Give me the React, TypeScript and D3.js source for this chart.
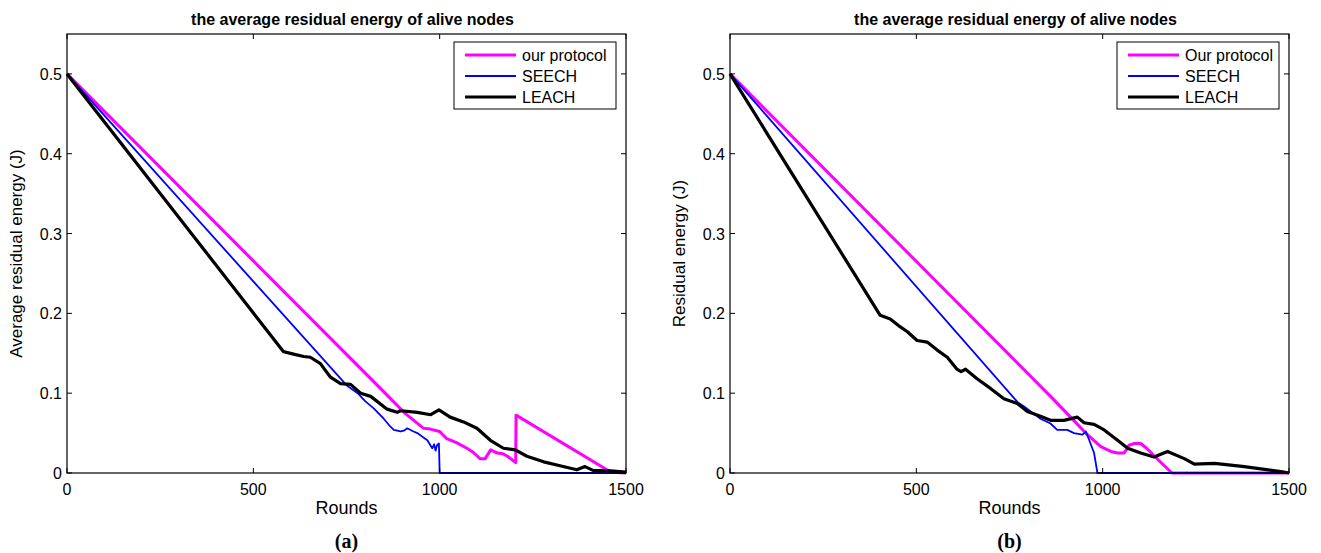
import React from "react";
import * as d3 from "d3";

// tick values shared by both panels
const roundTicks = [0, 500, 1000, 1500];
const energyTicks = [0, 0.1, 0.2, 0.3, 0.4, 0.5];

// (a) average residual energy
const roundsOurA = [0, 841, 909, 957, 975, 1000, 1019, 1045, 1073, 1090, 1108, 1122, 1137, 1155, 1170, 1182, 1204, 1205, 1460, 1500];
const energyOurA = [0.5, 0.106, 0.074, 0.056, 0.055, 0.052, 0.043, 0.038, 0.031, 0.026, 0.018, 0.018, 0.029, 0.025, 0.024, 0.021, 0.013, 0.0725, 0.001, 0];
const roundsSeechA = [0, 750, 780, 800, 823, 850, 868, 877, 895, 904, 913, 930, 940, 949, 967, 980, 985, 989, 993, 998, 1000, 1500];
const energySeechA = [0.5, 0.11, 0.1, 0.09, 0.081, 0.068, 0.058, 0.054, 0.052, 0.053, 0.056, 0.052, 0.05, 0.047, 0.041, 0.031, 0.036, 0.028, 0.035, 0.037, 0, 0];
const roundsLeachA = [0, 581, 608, 635, 653, 680, 707, 734, 761, 788, 815, 859, 886, 895, 940, 976, 998, 1028, 1064, 1100, 1136, 1171, 1203, 1234, 1279, 1323, 1368, 1390, 1413, 1450, 1500];
const energyLeachA = [0.5, 0.152, 0.149, 0.146, 0.145, 0.137, 0.12, 0.112, 0.111, 0.1, 0.096, 0.08, 0.076, 0.078, 0.076, 0.073, 0.079, 0.07, 0.064, 0.056, 0.041, 0.031, 0.029, 0.021, 0.014, 0.009, 0.004, 0.008, 0.003, 0.003, 0.001];

// (b) residual energy
const roundsOurB = [0, 860, 914, 959, 995, 1022, 1040, 1057, 1065, 1071, 1085, 1102, 1118, 1150, 1186, 1500];
const energyOurB = [0.5, 0.096, 0.07, 0.048, 0.033, 0.027, 0.025, 0.025, 0.03, 0.035, 0.037, 0.037, 0.031, 0.016, 0, 0];
const roundsSeechB = [0, 771, 790, 813, 833, 860, 878, 905, 923, 946, 955, 964, 977, 986, 1500];
const energySeechB = [0.5, 0.089, 0.083, 0.075, 0.068, 0.062, 0.054, 0.054, 0.05, 0.048, 0.052, 0.041, 0.025, 0, 0];
const roundsLeachB = [0, 403, 430, 457, 476, 502, 529, 556, 583, 609, 620, 632, 663, 699, 735, 771, 798, 833, 860, 896, 932, 950, 977, 1004, 1040, 1067, 1102, 1138, 1174, 1219, 1246, 1300, 1362, 1380, 1488, 1500];
const energyLeachB = [0.5, 0.1975, 0.193, 0.183, 0.177, 0.166, 0.164, 0.154, 0.145, 0.13, 0.127, 0.13, 0.118, 0.106, 0.093, 0.087, 0.077, 0.071, 0.066, 0.066, 0.07, 0.063, 0.061, 0.054, 0.041, 0.031, 0.025, 0.02, 0.027, 0.018, 0.011, 0.012, 0.009, 0.008, 0.001, 0];

const sans = "'Liberation Sans', Arial, sans-serif";

function Panel({ left, series, names, yLabel, caption }) {
  const top = 34, bottom = 473, w = 559;
  const x = d3.scaleLinear().domain([0, 1500]).range([left, left + w]);
  const y = d3.scaleLinear().domain([0, 0.55]).range([bottom, top]);
  const line = d3.line<[number, number]>().x((d) => x(d[0])).y((d) => y(d[1]));
  const cx = left + w / 2;
  const lgX = left + 387, lgY = 42;

  return (
    <g>
      <text x={cx + 6} y={25} textAnchor="middle" fontFamily={sans} fontWeight="bold" fontSize={16}>
        the average residual energy of alive nodes
      </text>
      {series.map((s, i) => (
        <path key={i} d={line(s.r.map((r, j) => [r, s.v[j]]))} fill="none" stroke={s.color} strokeWidth={s.width} strokeLinejoin="round" />
      ))}
      <rect x={left} y={top} width={w} height={bottom - top} fill="none" stroke="#000" strokeWidth={1.2} />
      {roundTicks.map((t) => (
        <g key={t}>
          <line x1={x(t)} x2={x(t)} y1={bottom} y2={bottom - 5} stroke="#000" />
          <line x1={x(t)} x2={x(t)} y1={top} y2={top + 5} stroke="#000" />
          <text x={x(t)} y={495} textAnchor="middle" fontFamily={sans} fontSize={16}>{t}</text>
        </g>
      ))}
      {energyTicks.map((t) => (
        <g key={t}>
          <line x1={left} x2={left + 5} y1={y(t)} y2={y(t)} stroke="#000" />
          <line x1={left + w} x2={left + w - 5} y1={y(t)} y2={y(t)} stroke="#000" />
          <text x={left - 5} y={y(t) + 6} textAnchor="end" fontFamily={sans} fontSize={16}>{t === 0 ? "0" : t.toFixed(1)}</text>
        </g>
      ))}
      <text x={cx} y={514} textAnchor="middle" fontFamily={sans} fontSize={18}>Rounds</text>
      <text transform={`translate(${left - 45},${(top + bottom) / 2}) rotate(-90)`} textAnchor="middle" fontFamily={sans} fontSize={17}>
        {yLabel}
      </text>
      <text x={cx} y={548} textAnchor="middle" fontFamily="'Liberation Serif', 'Times New Roman', serif" fontWeight="bold" fontSize={20}>
        {caption}
      </text>
      <rect x={lgX} y={lgY} width={162} height={67} fill="#fff" stroke="#000" strokeWidth={1} />
      {series.map((s, i) => (
        <g key={i}>
          <line x1={lgX + 11} x2={lgX + 62} y1={lgY + 13 + i * 21} y2={lgY + 13 + i * 21} stroke={s.color} strokeWidth={s.width} />
          <text x={lgX + 68} y={lgY + 19 + i * 21} fontFamily={sans} fontSize={16}>{names[i]}</text>
        </g>
      ))}
    </g>
  );
}

export default function App() {
  const seriesA = [
    { r: roundsOurA, v: energyOurA, color: "#ff00ff", width: 3 },
    { r: roundsSeechA, v: energySeechA, color: "#0000ff", width: 1.8 },
    { r: roundsLeachA, v: energyLeachA, color: "#000000", width: 3.2 },
  ];
  const seriesB = [
    { r: roundsOurB, v: energyOurB, color: "#ff00ff", width: 3 },
    { r: roundsSeechB, v: energySeechB, color: "#0000ff", width: 1.8 },
    { r: roundsLeachB, v: energyLeachB, color: "#000000", width: 3.2 },
  ];
  return (
    <svg width={1321} height={553} style={{ position: "absolute", left: 0, top: 0, background: "#fff" }}>
      <Panel left={67} series={seriesA} names={["our protocol", "SEECH", "LEACH"]} yLabel="Average residual energy (J)" caption="(a)" />
      <Panel left={730} series={seriesB} names={["Our protocol", "SEECH", "LEACH"]} yLabel="Residual energy (J)" caption="(b)" />
    </svg>
  );
}
